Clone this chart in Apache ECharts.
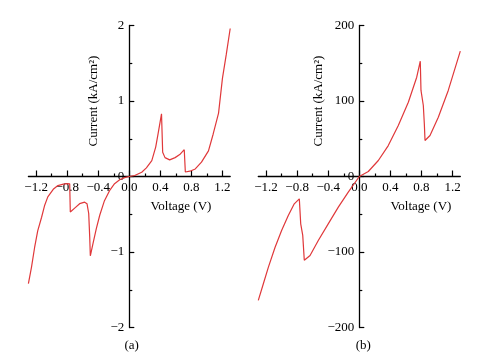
<!DOCTYPE html>
<html>
<head>
<meta charset="utf-8">
<script src="https://cdn.jsdelivr.net/npm/echarts@6/dist/echarts.min.js"></script>
<style>html,body{margin:0;padding:0;background:#fff;}#c{width:493px;height:360px;}</style>
</head>
<body>
<div id="c"></div>
<script>
// Panel (a)
const voltageA = [-1.30,-1.26,-1.22,-1.18,-1.13,-1.09,-1.05,-0.98,-0.92,-0.85,-0.80,-0.768,-0.76,-0.70,-0.64,-0.575,-0.545,-0.523,-0.51,-0.502,-0.468,-0.425,-0.38,-0.32,-0.25,-0.19,-0.12,-0.06,0,0.07,0.16,0.22,0.29,0.34,0.37,0.40,0.415,0.43,0.46,0.52,0.59,0.65,0.708,0.722,0.78,0.85,0.93,1.02,1.08,1.15,1.20,1.25,1.30];
const currentA = [-1.42,-1.20,-0.94,-0.72,-0.54,-0.38,-0.27,-0.17,-0.12,-0.10,-0.095,-0.097,-0.47,-0.415,-0.36,-0.34,-0.36,-0.49,-0.80,-1.05,-0.89,-0.69,-0.51,-0.32,-0.18,-0.095,-0.04,-0.015,0,0.013,0.057,0.115,0.21,0.39,0.56,0.74,0.83,0.32,0.25,0.22,0.25,0.29,0.355,0.06,0.07,0.10,0.19,0.34,0.56,0.84,1.3,1.62,1.96];
// Panel (b)
const voltageB = [-1.30,-1.235,-1.17,-1.085,-1.0,-0.914,-0.837,-0.772,-0.754,-0.728,-0.708,-0.634,-0.528,-0.40,-0.27,-0.142,0,0.116,0.245,0.373,0.502,0.631,0.739,0.785,0.794,0.824,0.837,0.846,0.91,1.017,1.145,1.30];
const currentB = [-164,-142,-120,-94,-71.5,-51.7,-36.2,-29.6,-62.7,-78,-111,-104.6,-84.8,-62.7,-40.6,-20.8,0,6.6,21.2,41,67.5,98.4,131.5,152.7,114,94,69.8,47.7,54.3,78.5,114,166];

const xTickValues = [-1.2,-0.8,-0.4,0,0.4,0.8,1.2];
const xTickLabels = ['\u22121.2','\u22120.8','\u22120.4','0.0','0.4','0.8','1.2'];
const xMinorValues = [-1.0,-0.6,-0.2,0.2,0.6,1.0];
const yTickValuesA = [-2,-1,0,1,2];
const yTickLabelsA = ['\u22122','\u22121','0','1','2'];
const yTickValuesB = [-200,-100,0,100,200];
const yTickLabelsB = ['\u2212200','\u2212100','0','100','200'];
const xTitle = 'Voltage (V)';
const yTitle = 'Current (kA/cm\u00b2)';
const panelLabels = ['(a)', '(b)'];

const FONT = '"Liberation Serif","Times New Roman",serif';
const RED = '#e0383a';
const GRID_TOP = 25.5, GRID_H = 302;
const XMIN = -1.3, XMAX = 1.3;

function pairs(xs, ys){ return xs.map((x,i)=>[x, ys[i]]); }

// offsets that move the axes onto the zero lines of the other axis
function xOffset(ymin, ymax){ return -GRID_H * (0 - ymin) / (ymax - ymin); }
function yOffset(width){ return -width * (0 - XMIN) / (XMAX - XMIN); }

function xMain(gi, off){
  return {
    type:'value', gridIndex:gi, min:XMIN, max:XMAX, position:'bottom', offset:off,
    axisLine:{show:true, onZero:false, lineStyle:{color:'#000', width:1.3}},
    axisTick:{show:true, inside:true, length:6, customValues:xTickValues, lineStyle:{color:'#000', width:1.2}},
    axisLabel:{show:true, customValues:xTickValues, margin:5, fontFamily:FONT, fontSize:13, color:'#000',
      formatter:v=>{const i=xTickValues.findIndex(t=>Math.abs(t-v)<1e-6);return i>=0?xTickLabels[i]:'';}},
    splitLine:{show:false}
  };
}
function xMinor(gi, off){
  return {
    type:'value', gridIndex:gi, min:XMIN, max:XMAX, position:'bottom', offset:off,
    axisLine:{show:false, onZero:false},
    axisTick:{show:true, inside:true, length:3, customValues:xMinorValues, lineStyle:{color:'#000', width:1.2}},
    axisLabel:{show:false},
    splitLine:{show:false}
  };
}
function yAxis(gi, vals, labels, step, off){
  return {
    type:'value', gridIndex:gi, min:vals[0], max:vals[vals.length-1], interval:step, position:'left', offset:off,
    axisLine:{show:true, onZero:false, lineStyle:{color:'#000', width:1.3}},
    axisTick:{show:true, inside:true, length:5, lineStyle:{color:'#000', width:1.2}},
    minorTick:{show:true, splitNumber:2, length:3, lineStyle:{color:'#000', width:1.2}},
    axisLabel:{show:true, margin:5, fontFamily:FONT, fontSize:13, color:'#000',
      formatter:v=>{const i=vals.findIndex(t=>Math.abs(t-v)<1e-6);return i>=0?labels[i]:'';}},
    splitLine:{show:false}, minorSplitLine:{show:false}
  };
}

const WA = 201.8, WB = 202;
const chart = echarts.init(document.getElementById('c'), null, {renderer:'canvas'});
chart.setOption({
  animation:false,
  backgroundColor:'#fff',
  grid:[
    {left:28.4, top:GRID_TOP, width:WA, height:GRID_H},
    {left:258.3, top:GRID_TOP, width:WB, height:GRID_H}
  ],
  xAxis:[
    xMain(0, xOffset(-2,2)), xMinor(0, xOffset(-2,2)),
    xMain(1, xOffset(-200,200)), xMinor(1, xOffset(-200,200))
  ],
  yAxis:[
    yAxis(0, yTickValuesA, yTickLabelsA, 1, yOffset(WA)),
    yAxis(1, yTickValuesB, yTickLabelsB, 100, yOffset(WB))
  ],
  series:[
    {type:'line', xAxisIndex:0, yAxisIndex:0, data:pairs(voltageA,currentA), showSymbol:false, smooth:false,
     lineStyle:{color:RED, width:1.2}, clip:false},
    {type:'line', xAxisIndex:2, yAxisIndex:1, data:pairs(voltageB,currentB), showSymbol:false, smooth:false,
     lineStyle:{color:RED, width:1.2}, clip:false}
  ],
  graphic:[
    {type:'text', x:94, y:101, rotation:Math.PI/2, style:{text:yTitle, font:'13px '+FONT, fill:'#000', align:'center', verticalAlign:'middle'}},
    {type:'text', x:318.5, y:101, rotation:Math.PI/2, style:{text:yTitle, font:'13px '+FONT, fill:'#000', align:'center', verticalAlign:'middle'}},
    {type:'text', x:181, y:207, style:{text:xTitle, font:'13px '+FONT, fill:'#000', align:'center', verticalAlign:'middle'}},
    {type:'text', x:421, y:207, style:{text:xTitle, font:'13px '+FONT, fill:'#000', align:'center', verticalAlign:'middle'}},
    {type:'text', x:131.7, y:346, style:{text:panelLabels[0], font:'13px '+FONT, fill:'#000', align:'center', verticalAlign:'middle'}},
    {type:'text', x:363.3, y:346, style:{text:panelLabels[1], font:'13px '+FONT, fill:'#000', align:'center', verticalAlign:'middle'}}
  ]
});
</script>
</body>
</html>
